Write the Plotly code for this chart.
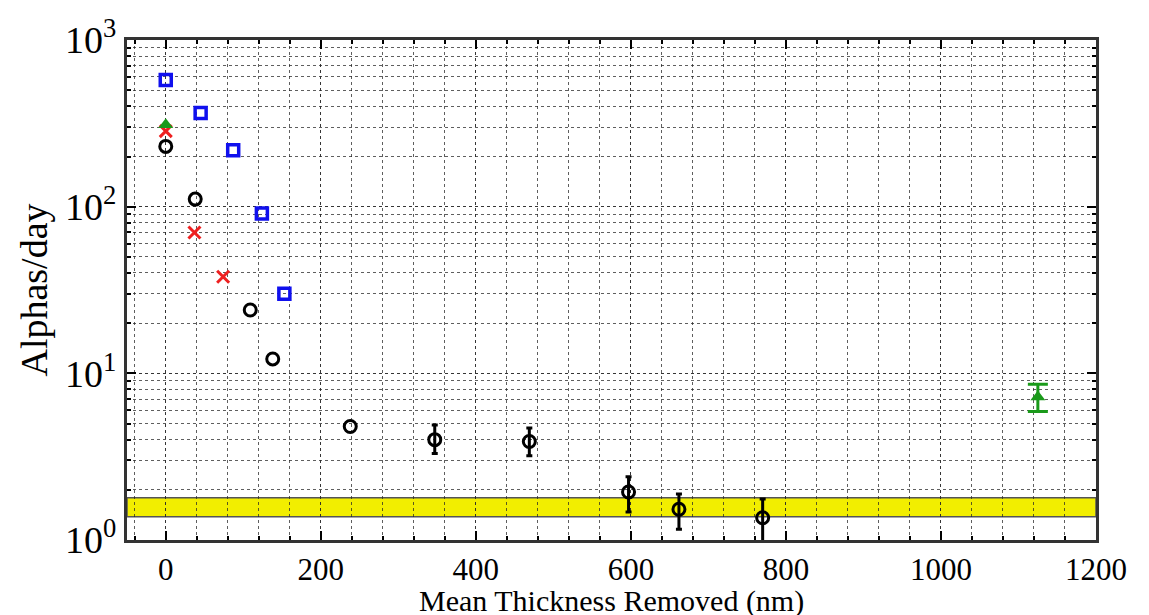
import plotly.graph_objects as go

# Black circles (last five carry error bars)
black_x = [0, 38, 109, 138, 238, 347, 469, 597, 662, 770]
black_y = [230, 111, 24, 12.2, 4.8, 4.0, 3.9, 1.94, 1.53, 1.36]
black_err_plus = [0.9, 0.8, 0.46, 0.36, 0.40]
black_err_minus = [0.7, 0.7, 0.47, 0.37, 0.43]

# Blue squares
blue_x = [0, 45, 87, 124, 153]
blue_y = [575, 365, 218, 91, 30]

# Red crosses
red_x = [0, 37, 74]
red_y = [284, 70, 38]

# Green triangles (second one carries an error bar)
green_x = [0, 1125]
green_y = [310, 7.2]
green_err_plus = [1.4]
green_err_minus = [1.3]

# Yellow band (background level)
band_low = 1.38
band_high = 1.79

x_title = "Mean Thickness Removed (nm)"
y_title = "Alphas/day"

n_plain = len(black_x) - len(black_err_plus)

fig = go.Figure()

fig.add_shape(type="rect", xref="paper", x0=0, x1=1, yref="y", y0=band_low, y1=band_high,
              fillcolor="#f2ee00", line=dict(color="#555555", width=1.5), layer="between")

black_marker = dict(symbol="circle-open", size=12, color="black", line=dict(width=3))
fig.add_trace(go.Scatter(x=black_x[:n_plain], y=black_y[:n_plain], mode="markers",
                         marker=black_marker, showlegend=False))
fig.add_trace(go.Scatter(x=black_x[n_plain:], y=black_y[n_plain:], mode="markers",
                         marker=black_marker,
                         error_y=dict(type="data", array=black_err_plus, arrayminus=black_err_minus,
                                      color="black", thickness=3, width=3),
                         showlegend=False))
fig.add_trace(go.Scatter(x=blue_x, y=blue_y, mode="markers",
                         marker=dict(symbol="square-open", size=11, color="#1010ee", line=dict(width=3.5)),
                         showlegend=False))
fig.add_trace(go.Scatter(x=red_x, y=red_y, mode="markers",
                         marker=dict(symbol="x-thin-open", size=12, color="#ee2020", line=dict(width=3)),
                         showlegend=False))
green_marker = dict(symbol="triangle-up", size=13, color="#1a9a1a")
fig.add_trace(go.Scatter(x=green_x[:1], y=green_y[:1], mode="markers",
                         marker=green_marker, showlegend=False))
fig.add_trace(go.Scatter(x=green_x[1:], y=green_y[1:], mode="markers",
                         marker=green_marker,
                         error_y=dict(type="data", array=green_err_plus, arrayminus=green_err_minus,
                                      color="#1a9a1a", thickness=3, width=10),
                         showlegend=False))

font_family = "Liberation Serif, Times New Roman, serif"
gridc = "rgba(40,40,40,0.75)"

fig.add_annotation(text=x_title, xref="paper", yref="paper", x=0.5, y=-0.084,
                   xanchor="center", yanchor="top", showarrow=False,
                   font=dict(size=30, family=font_family, color="black"))

fig.update_layout(
    width=1149, height=615,
    margin=dict(l=119, r=61, t=32, b=83),
    paper_bgcolor="white", plot_bgcolor="white",
    font=dict(family=font_family, color="black", size=24),
    xaxis=dict(range=[-50, 1200], tickvals=[0, 200, 400, 600, 800, 1000, 1200],
               automargin=False,
               showline=True, linecolor="#333333", linewidth=3, mirror="ticks",
               ticks="inside", ticklen=9, tickwidth=1.5, tickcolor="black",
               showgrid=True, gridcolor=gridc, griddash="dot", gridwidth=1.3,
               minor=dict(dtick=40, tick0=0, showgrid=True, gridcolor=gridc, griddash="dot",
                          gridwidth=1, ticks="inside", ticklen=4, tickcolor="black"),
               zeroline=False,
               tickfont=dict(size=31, family=font_family)),
    yaxis=dict(type="log", range=[0, 3], tickvals=[1, 10, 100, 1000],
               ticktext=["10<sup>0</sup>", "10<sup>1</sup>", "10<sup>2</sup>", "10<sup>3</sup>"],
               automargin=False,
               showline=True, linecolor="#333333", linewidth=3, mirror="ticks",
               ticks="inside", ticklen=9, tickwidth=1.5, tickcolor="black",
               showgrid=True, gridcolor=gridc, griddash="dot", gridwidth=1.3,
               minor=dict(dtick="D1", showgrid=True, gridcolor=gridc, griddash="dot",
                          gridwidth=1, ticks="inside", ticklen=4, tickcolor="black"),
               zeroline=False,
               tickfont=dict(size=38, family=font_family),
               title=dict(text=y_title, font=dict(size=38, family=font_family), standoff=6)),
)

fig.write_html("out.html")
